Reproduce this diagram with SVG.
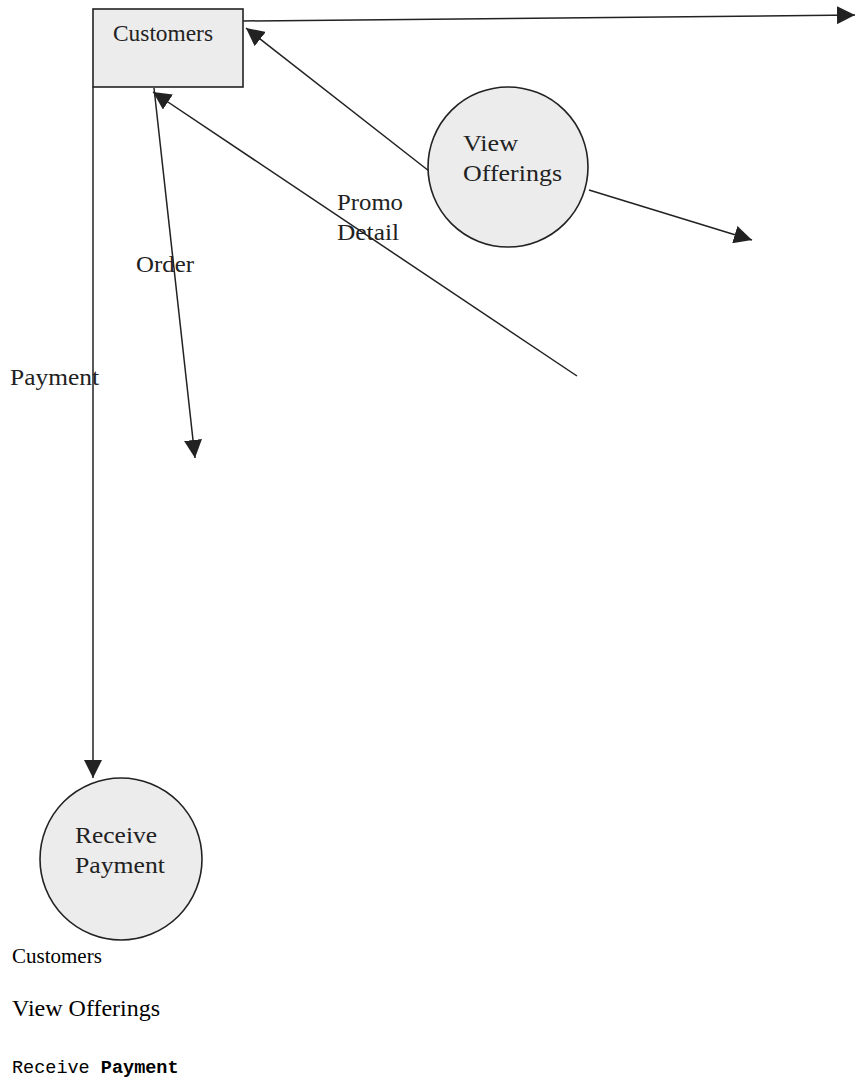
<svg xmlns="http://www.w3.org/2000/svg" width="856" height="1084" viewBox="0 0 856 1084">
  <style>
    .node { fill: #ececec; stroke: #222; stroke-width: 1.6; }
    .flow { fill: none; stroke: #222; stroke-width: 1.5; }
    .lbl { font-family: "Liberation Serif", "Times New Roman", serif; fill: #222; font-size: 23px; }
    .cap { font-family: "Liberation Serif", "Times New Roman", serif; fill: #000; }
    .mono { font-family: "Liberation Mono", "Courier New", monospace; fill: #000; font-size: 18.5px; }
  </style>
  <defs>
    <marker id="arrow" viewBox="0 0 10 10" refX="10" refY="5" markerWidth="18" markerHeight="18" markerUnits="userSpaceOnUse" orient="auto">
      <path d="M0,0 L10,5 L0,10 z" fill="#222"/>
    </marker>
  </defs>
  <rect width="856" height="1084" fill="#fff"/>

  <!-- data flows -->
  <g id="connectors">
    <line class="flow" x1="243" y1="21" x2="855" y2="15" marker-end="url(#arrow)"/>
    <line class="flow" x1="429" y1="171" x2="246" y2="28" marker-end="url(#arrow)"/>
    <line class="flow" x1="589" y1="190" x2="752" y2="240" marker-end="url(#arrow)"/>
    <line class="flow" x1="577" y1="376" x2="153" y2="92" marker-end="url(#arrow)"/>
    <line class="flow" x1="154" y1="88" x2="195" y2="458" marker-end="url(#arrow)"/>
    <line class="flow" x1="93" y1="87" x2="93" y2="778" marker-end="url(#arrow)"/>
    <text class="lbl" x="136" y="272" textLength="58" lengthAdjust="spacingAndGlyphs">Order</text>
    <text class="lbl" x="10" y="385" textLength="89" lengthAdjust="spacingAndGlyphs">Payment</text>
    <text class="lbl" x="337" y="210" textLength="66" lengthAdjust="spacingAndGlyphs">Promo</text>
    <text class="lbl" x="337" y="240" textLength="62" lengthAdjust="spacingAndGlyphs">Detail</text>
  </g>

  <g id="customers">
    <rect class="node" x="93" y="9" width="150" height="78"/>
    <text class="lbl" x="113" y="41" textLength="100" lengthAdjust="spacingAndGlyphs">Customers</text>
  </g>

  <g id="view-offerings">
    <circle class="node" cx="508" cy="167" r="80"/>
    <text class="lbl" x="463" y="151" textLength="55" lengthAdjust="spacingAndGlyphs">View</text>
    <text class="lbl" x="463" y="181" textLength="99" lengthAdjust="spacingAndGlyphs">Offerings</text>
  </g>

  <g id="receive-payment">
    <circle class="node" cx="121" cy="859" r="81"/>
    <text class="lbl" x="75" y="843" textLength="82" lengthAdjust="spacingAndGlyphs">Receive</text>
    <text class="lbl" x="75" y="873" textLength="90" lengthAdjust="spacingAndGlyphs">Payment</text>
  </g>

  <!-- text lines under the chart -->
  <text class="cap" x="12" y="963" font-size="21">Customers</text>
  <text class="cap" x="12" y="1016" font-size="24">View Offerings</text>
  <text class="mono" x="12" y="1073">Receive <tspan font-weight="bold">Payment</tspan></text>
</svg>
